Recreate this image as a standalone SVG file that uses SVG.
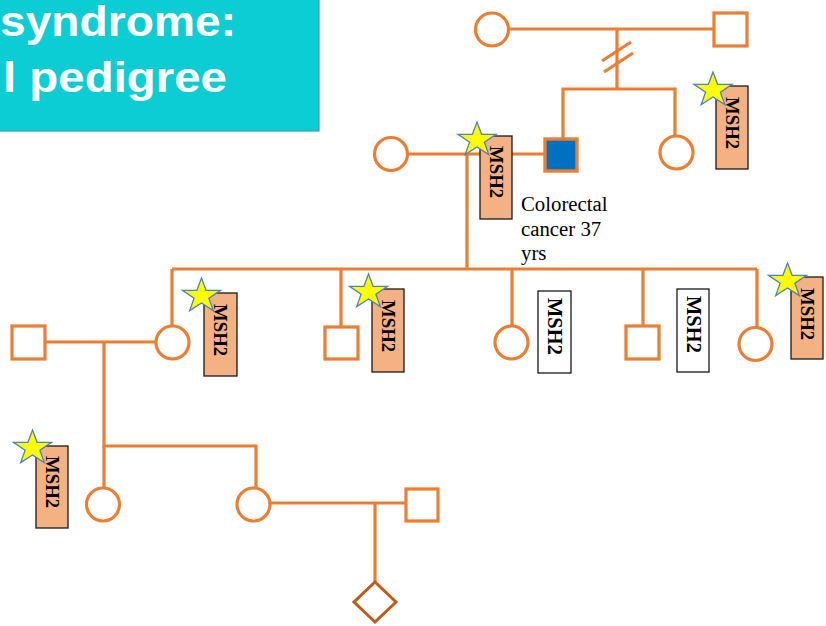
<svg xmlns="http://www.w3.org/2000/svg" width="826" height="626" viewBox="0 0 826 626">
  <defs>
    <style>
      .ln { fill: none; stroke: #ED7D31; stroke-width: 3.2; }
      .sym { fill: #FFFFFF; stroke: #ED7D31; stroke-width: 3.2; }
      .aff { fill: #0070C0; stroke: #ED7D31; stroke-width: 3.4; }
      .dia { fill: #FFFFFF; stroke: #C65911; stroke-width: 3; }
      .tag { fill: #F4B183; stroke: #1A1A1A; stroke-width: 1.3; }
      .tagw { fill: #FFFFFF; stroke: #1A1A1A; stroke-width: 1.3; }
      .tagt { font-family: "Liberation Serif", "Times New Roman", serif; font-weight: bold; font-size: 18.8px; fill: #000000; }
      .tagtw { font-family: "Liberation Serif", "Times New Roman", serif; font-weight: bold; font-size: 20.5px; fill: #000000; }
      .note { font-family: "Liberation Serif", "Times New Roman", serif; font-size: 20.8px; fill: #000000; }
      .title { font-family: "Liberation Sans", Arial, sans-serif; font-weight: bold; font-size: 42px; fill: #FFFFFF; }
      .star { fill: #FFFF00; stroke: #4F81BD; stroke-width: 1.3; stroke-linejoin: miter; }
    </style>
    <path id="star" d="M0,-18 L4.6,-5.7 L19,-5.6 L7.4,2.2 L11.8,14.6 L0,7 L-11.8,14.6 L-7.4,2.2 L-19,-5.6 L-4.6,-5.7 Z"/>
  </defs>

  <rect width="826" height="626" fill="#FFFFFF"/>

  <!-- title banner -->
  <g id="title">
    <rect x="-6" y="-6" width="325" height="137" fill="#0BCDD3" stroke="#29A9AE" stroke-width="1.2"/>
    <text class="title" x="0" y="36" textLength="236" lengthAdjust="spacingAndGlyphs">syndrome:</text>
    <text class="title" x="3" y="92" textLength="224" lengthAdjust="spacingAndGlyphs">l pedigree</text>
  </g>

  <!-- connectors -->
  <g id="connectors">
    <!-- generation I couple, separated -->
    <line class="ln" x1="508" y1="29" x2="714" y2="29"/>
    <line class="ln" x1="617" y1="29" x2="617" y2="89"/>
    <line class="ln" x1="602" y1="61" x2="631" y2="42"/>
    <line class="ln" x1="604" y1="72" x2="633" y2="53"/>
    <polyline class="ln" points="563,140 563,89 675,89 675,136"/>
    <!-- generation II couple -->
    <line class="ln" x1="407" y1="154" x2="545" y2="154"/>
    <line class="ln" x1="467" y1="154" x2="467" y2="269"/>
    <!-- generation III sibship -->
    <line class="ln" x1="172" y1="269" x2="757" y2="269"/>
    <line class="ln" x1="172" y1="269" x2="172" y2="326"/>
    <line class="ln" x1="341" y1="269" x2="341" y2="327"/>
    <line class="ln" x1="512" y1="269" x2="512" y2="326"/>
    <line class="ln" x1="643" y1="269" x2="643" y2="326"/>
    <line class="ln" x1="757" y1="269" x2="757" y2="328"/>
    <!-- generation III left couple -->
    <line class="ln" x1="43" y1="342" x2="156" y2="342"/>
    <polyline class="ln" points="104,342 104,446 256,446 256,488"/>
    <line class="ln" x1="104" y1="446" x2="104" y2="488"/>
    <!-- generation IV couple -->
    <line class="ln" x1="270" y1="503" x2="406" y2="503"/>
    <line class="ln" x1="375" y1="503" x2="375" y2="582"/>
  </g>

  <!-- generation I -->
  <g id="i-1"><circle class="sym" cx="492" cy="29.5" r="16.5"/></g>
  <g id="i-2"><rect class="sym" x="714" y="13" width="33" height="33"/></g>

  <!-- generation II -->
  <g id="ii-1"><circle class="sym" cx="391" cy="154" r="16.5"/></g>
  <g id="ii-2">
    <rect class="aff" x="545" y="139" width="32" height="32"/>
    <text class="note" x="521" y="211">Colorectal</text>
    <text class="note" x="521" y="236">cancer 37</text>
    <text class="note" x="521" y="260">yrs</text>
  </g>
  <g id="ii-3"><circle class="sym" cx="676.5" cy="152.5" r="16.5"/></g>

  <!-- generation III -->
  <g id="iii-1"><rect class="sym" x="12" y="326" width="33" height="33"/></g>
  <g id="iii-2"><circle class="sym" cx="172.5" cy="342.5" r="16.5"/></g>
  <g id="iii-3"><rect class="sym" x="325" y="327" width="33" height="32"/></g>
  <g id="iii-4"><circle class="sym" cx="511.5" cy="342.5" r="16.5"/></g>
  <g id="iii-5"><rect class="sym" x="626" y="326" width="33" height="33"/></g>
  <g id="iii-6"><circle class="sym" cx="755.5" cy="344" r="16.5"/></g>

  <!-- generation IV -->
  <g id="iv-1"><circle class="sym" cx="103" cy="504.5" r="16.5"/></g>
  <g id="iv-2"><circle class="sym" cx="253.5" cy="504.5" r="16.5"/></g>
  <g id="iv-3"><rect class="sym" x="406" y="489" width="32" height="32"/></g>

  <!-- generation V -->
  <g id="v-1"><polygon class="dia" points="375,582 396,602 375,622 354,602"/></g>

  <!-- MSH2 test results -->
  <g id="tag-i">
    <rect class="tag" x="716" y="86" width="32" height="83"/>
    <text class="tagt" transform="translate(725.5,97) rotate(90)">MSH2</text>
    <use href="#star" class="star" x="713" y="90"/>
  </g>
  <g id="tag-ii">
    <rect class="tag" x="480" y="136" width="32" height="83"/>
    <text class="tagt" transform="translate(489.5,146) rotate(90)">MSH2</text>
    <use href="#star" class="star" x="477" y="140"/>
  </g>
  <g id="tag-iii-2">
    <rect class="tag" x="204" y="293" width="33" height="83"/>
    <text class="tagt" transform="translate(214,304) rotate(90)">MSH2</text>
    <use href="#star" class="star" x="201.5" y="296"/>
  </g>
  <g id="tag-iii-3">
    <rect class="tag" x="372" y="289" width="32" height="83"/>
    <text class="tagt" transform="translate(381.5,300) rotate(90)">MSH2</text>
    <use href="#star" class="star" x="368.5" y="292"/>
  </g>
  <g id="tag-iii-4">
    <rect class="tagw" x="538" y="291" width="33" height="82"/>
    <text class="tagtw" transform="translate(548,298) rotate(90)">MSH2</text>
  </g>
  <g id="tag-iii-5">
    <rect class="tagw" x="677" y="289" width="32" height="83"/>
    <text class="tagtw" transform="translate(686.5,296) rotate(90)">MSH2</text>
  </g>
  <g id="tag-iii-6">
    <rect class="tag" x="791" y="277" width="32" height="82"/>
    <text class="tagt" transform="translate(800.5,288) rotate(90)">MSH2</text>
    <use href="#star" class="star" x="787.5" y="281"/>
  </g>
  <g id="tag-iv-1">
    <rect class="tag" x="36" y="446" width="32" height="82"/>
    <text class="tagt" transform="translate(45.5,456) rotate(90)">MSH2</text>
    <use href="#star" class="star" x="32.5" y="448"/>
  </g>
</svg>
